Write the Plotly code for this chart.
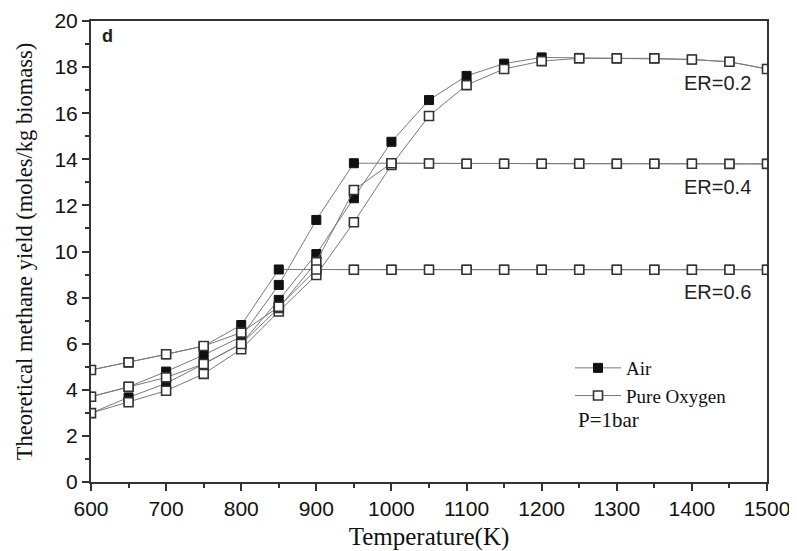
import plotly.graph_objects as go

temperature = [600, 650, 700, 750, 800, 850, 900, 950, 1000, 1050, 1100,
               1150, 1200, 1250, 1300, 1350, 1400, 1450, 1500]

air_er02 = [2.99, 3.67, 4.28, 5.12, 6.00, 7.90, 9.89, 12.31, 14.76, 16.57, 17.62,
            18.15, 18.42, 18.40, 18.38, 18.38, 18.33, 18.23, 17.92]
oxy_er02 = [2.99, 3.46, 3.96, 4.69, 5.76, 7.40, 8.98, 11.27, 13.75, 15.88, 17.22,
            17.92, 18.26, 18.38, 18.38, 18.38, 18.33, 18.23, 17.92]
air_er04 = [3.70, 4.13, 4.79, 5.51, 6.30, 8.55, 11.37, 13.83, 13.83, 13.82, 13.81,
            13.81, 13.81, 13.81, 13.81, 13.81, 13.81, 13.80, 13.80]
oxy_er04 = [3.70, 4.13, 4.54, 5.12, 5.99, 7.55, 9.54, 12.67, 13.83, 13.82, 13.81,
            13.81, 13.81, 13.81, 13.81, 13.81, 13.81, 13.80, 13.80]
air_er06 = [4.86, 5.19, 5.54, 5.90, 6.81, 9.22, 9.22, 9.21, 9.21, 9.21, 9.21,
            9.21, 9.21, 9.21, 9.21, 9.21, 9.21, 9.21, 9.21]
oxy_er06 = [4.86, 5.19, 5.54, 5.90, 6.48, 7.60, 9.22, 9.21, 9.21, 9.21, 9.21,
            9.21, 9.21, 9.21, 9.21, 9.21, 9.21, 9.21, 9.21]

er_labels = ["ER=0.2", "ER=0.4", "ER=0.6"]
er_label_y = [17.3, 12.8, 8.25]

fig = go.Figure()

line_col = "#7a7a7a"
for i, ys in enumerate([air_er02, air_er04, air_er06]):
    fig.add_trace(go.Scatter(
        x=temperature, y=ys, mode="lines+markers", name="Air",
        showlegend=(i == 0),
        line=dict(color=line_col, width=1),
        marker=dict(symbol="square", size=9, color="#111111",
                    line=dict(color="#111111", width=1)),
    ))
for i, ys in enumerate([oxy_er02, oxy_er04, oxy_er06]):
    fig.add_trace(go.Scatter(
        x=temperature, y=ys, mode="lines+markers", name="Pure Oxygen",
        showlegend=(i == 0),
        line=dict(color=line_col, width=1),
        marker=dict(symbol="square", size=9, color="white",
                    line=dict(color="#333333", width=1.6)),
    ))

annotations = []
for lab, yy in zip(er_labels, er_label_y):
    annotations.append(dict(x=1482, y=yy, xref="x", yref="y", text=lab,
                            showarrow=False, xanchor="right", yanchor="middle",
                            font=dict(family="Liberation Sans, Arial", size=20, color="#222")))
annotations.append(dict(x=0.013, y=0.967, xref="paper", yref="paper", text="<b>d</b>",
                        showarrow=False, xanchor="left", yanchor="middle",
                        font=dict(family="Liberation Sans, Arial", size=18, color="#222")))
annotations.append(dict(x=0.7175, y=0.1345, xref="paper", yref="paper", text="P=1bar",
                        showarrow=False, xanchor="left", yanchor="middle",
                        font=dict(family="Liberation Serif, Times New Roman", size=21, color="#111")))

axis_common = dict(
    showgrid=False, zeroline=False, showline=True, linecolor="#333333", linewidth=2,
    mirror=True, ticks="outside", ticklen=7, tickwidth=2, tickcolor="#333333",
    automargin=False,
    tickfont=dict(family="Liberation Sans, Arial", size=21, color="#111111"),
)

# page body has an 8px default margin: size/margins compensate so the
# plot area lands where the reference has it
fig.update_layout(
    width=789, height=543,
    margin=dict(l=83, r=30, t=13, b=69),
    paper_bgcolor="white", plot_bgcolor="white",
    xaxis=dict(range=[600, 1500], dtick=100, tick0=600,
               minor=dict(dtick=50, ticks="outside", ticklen=4, tickwidth=2, tickcolor="#333333"),
               title=dict(text="Temperature(K)", standoff=8,
                          font=dict(family="Liberation Serif, Times New Roman", size=25, color="#111")),
               **axis_common),
    yaxis=dict(range=[0, 20], dtick=2, tick0=0,
               minor=dict(dtick=1, ticks="outside", ticklen=4, tickwidth=2, tickcolor="#333333"),
               title=dict(text="Theoretical methane yield (moles/kg biomass)", standoff=16,
                          font=dict(family="Liberation Serif, Times New Roman", size=22.5, color="#111")),
               **axis_common),
    legend=dict(x=0.7086, y=0.2885, xanchor="left", yanchor="top",
                bgcolor="rgba(0,0,0,0)", itemwidth=46,
                font=dict(family="Liberation Serif, Times New Roman", size=19, color="#111"),
                tracegroupgap=0),
    annotations=annotations,
)

fig.write_html("out.html")
